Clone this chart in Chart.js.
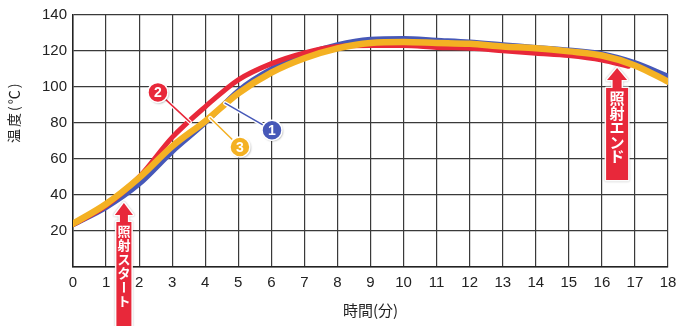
<!DOCTYPE html>
<html>
<head>
<meta charset="utf-8">
<script src="https://cdn.jsdelivr.net/npm/chart.js@4/dist/chart.umd.min.js"></script>
<style>
  html, body { margin: 0; padding: 0; background: #fff; }
  #wrap { width: 676px; height: 326px; position: relative; }
</style>
</head>
<body>
<div id="wrap"><canvas id="heatChart"></canvas></div>
<script>
// time axis (minutes)
var minutes = [0, 1, 2, 3, 4, 5, 6, 7, 8, 9, 10, 11, 12, 13, 14, 15, 16, 17, 18];
var minutesRed = [0, 1, 2, 3, 4, 5, 6, 7, 8, 9, 10, 11, 12, 13, 14, 15, 16, 16.8];

// temperatures (°C)
var temp1 = [23.5, 33, 46, 64, 80, 98, 110, 118, 123.5, 126.5, 127, 126, 125, 123.5, 122, 120.5, 118.5, 113.5, 106];   // ① blue
var temp2 = [23.5, 34, 50, 72, 89, 104, 113, 119, 122.5, 123, 123, 122, 121.5, 120.2, 118.8, 117.5, 115, 111.5];       // ② red
var temp3 = [24, 35, 49.5, 67, 81, 96.5, 108, 116, 121.5, 124.5, 125, 124.5, 124, 122.5, 121.5, 119.8, 117.5, 112, 103]; // ③ orange

var yLabels = [20, 40, 60, 80, 100, 120, 140];

var BLUE = '#4658b8', RED = '#e8283a', ORANGE = '#f4b123';

function pts(xs, ys) {
    return ys.map(function (v, i) { return {x: xs[i], y: v}; });
}

// callout markers ①②③ (anchor positions in data units)
var callouts = [
    {text: '2', color: RED,    circle: [2.57, 97],  tip: [3.54, 80.5]},
    {text: '1', color: BLUE,   circle: [6.02, 76],  tip: [4.6, 91]},
    {text: '3', color: ORANGE, circle: [5.05, 66.7], tip: [4.15, 82.8]}
];
// 照射 arrows
var arrows = [
    {text: '照射スタート', at: [1.54, 35.6], headW: 18, headH: 12, stemW: 8, stemH: 7, boxW: 15, boxH: 130, font: 13, step: 14},
    {text: '照射エンド',   at: [16.46, 110.6], headW: 20, headH: 12, stemW: 9, stemH: 8, boxW: 22, boxH: 92, font: 15, step: 14.5}
];

var decorations = {
    id: 'decorations',
    afterDatasetsDraw: function (chart) {
        var ctx = chart.ctx;
        var xs = chart.scales.x, ys = chart.scales.y;

        // callouts
        callouts.forEach(function (c) {
            var cx = xs.getPixelForValue(c.circle[0]), cy = ys.getPixelForValue(c.circle[1]);
            var tx = xs.getPixelForValue(c.tip[0]), ty = ys.getPixelForValue(c.tip[1]);
            ctx.save();
            ctx.lineCap = 'round';
            ctx.strokeStyle = '#fff';
            ctx.lineWidth = 4;
            ctx.beginPath(); ctx.moveTo(cx, cy); ctx.lineTo(tx, ty); ctx.stroke();
            ctx.strokeStyle = c.color;
            ctx.lineWidth = 1.5;
            ctx.beginPath(); ctx.moveTo(cx, cy); ctx.lineTo(tx, ty); ctx.stroke();
            ctx.beginPath(); ctx.arc(cx, cy, 10, 0, Math.PI * 2);
            ctx.fillStyle = c.color;
            ctx.shadowColor = 'rgba(0,0,0,0.35)';
            ctx.shadowBlur = 2;
            ctx.shadowOffsetX = 1; ctx.shadowOffsetY = 1;
            ctx.fill();
            ctx.shadowColor = 'transparent';
            ctx.strokeStyle = '#fff';
            ctx.lineWidth = 1.5;
            ctx.stroke();
            ctx.fillStyle = '#fff';
            ctx.font = 'bold 14px "Liberation Sans", Arial, sans-serif';
            ctx.textAlign = 'center';
            ctx.textBaseline = 'middle';
            ctx.fillText(c.text, cx, cy + 1);
            ctx.restore();
        });

        // arrows
        arrows.forEach(function (a) {
            var cx = xs.getPixelForValue(a.at[0]), top = ys.getPixelForValue(a.at[1]);
            var stemTop = top + a.headH, boxTop = stemTop + a.stemH;
            ctx.save();
            ctx.beginPath();
            ctx.moveTo(cx, top);
            ctx.lineTo(cx + a.headW / 2, stemTop);
            ctx.lineTo(cx + a.stemW / 2, stemTop);
            ctx.lineTo(cx + a.stemW / 2, boxTop);
            ctx.lineTo(cx + a.boxW / 2, boxTop);
            ctx.lineTo(cx + a.boxW / 2, boxTop + a.boxH);
            ctx.lineTo(cx - a.boxW / 2, boxTop + a.boxH);
            ctx.lineTo(cx - a.boxW / 2, boxTop);
            ctx.lineTo(cx - a.stemW / 2, boxTop);
            ctx.lineTo(cx - a.stemW / 2, stemTop);
            ctx.lineTo(cx - a.headW / 2, stemTop);
            ctx.closePath();
            ctx.lineJoin = 'round';
            ctx.strokeStyle = 'rgba(255,255,255,0.95)';
            ctx.lineWidth = 3;
            ctx.shadowColor = 'rgba(0,0,0,0.3)';
            ctx.shadowBlur = 2;
            ctx.stroke();
            ctx.shadowColor = 'transparent';
            ctx.fillStyle = RED;
            ctx.fill();

            ctx.fillStyle = '#fff';
            ctx.font = 'bold ' + a.font + 'px "Noto Sans CJK JP", sans-serif';
            ctx.textAlign = 'center';
            ctx.textBaseline = 'middle';
            var chars = Array.from(a.text);
            chars.forEach(function (ch, i) {
                var y = boxTop + a.font * 0.72 + i * a.step;
                if (ch === 'ー') {
                    ctx.save();
                    ctx.translate(cx, y);
                    ctx.rotate(Math.PI / 2);
                    ctx.fillText(ch, 0, 0);
                    ctx.restore();
                } else {
                    ctx.fillText(ch, cx, y);
                }
            });
            ctx.restore();
        });

        // y axis title
        ctx.save();
        ctx.translate(14, ys.getPixelForValue(86));
        ctx.rotate(-Math.PI / 2);
        ctx.fillStyle = '#222';
        ctx.font = '14px "Noto Sans CJK JP", sans-serif';
        ctx.letterSpacing = '2px';
        ctx.textAlign = 'center';
        ctx.textBaseline = 'middle';
        ctx.fillText('温度(℃)', 0, 0);
        ctx.restore();
    }
};

var heatChart = new Chart(document.getElementById('heatChart'), {
    type: 'line',
    data: {
        datasets: [
            {
                label: '3',
                data: pts(minutes, temp3),
                borderColor: ORANGE,
                borderWidth: 6.5,
                order: 1
            },
            {
                label: '2',
                data: pts(minutesRed, temp2),
                borderColor: RED,
                borderWidth: 5,
                order: 2
            },
            {
                label: '1',
                data: pts(minutes, temp1),
                borderColor: BLUE,
                borderWidth: 5,
                order: 3
            }
        ]
    },
    options: {
        animation: false,
        responsive: true,
        maintainAspectRatio: false,
        elements: {
            point: { radius: 0 },
            line: { cubicInterpolationMode: 'monotone', borderCapStyle: 'round', borderJoinStyle: 'round' }
        },
        layout: { padding: { top: 15, right: 8, left: 0, bottom: 0 } },
        plugins: {
            legend: { display: false },
            tooltip: { enabled: false }
        },
        scales: {
            x: {
                type: 'linear',
                min: 0,
                max: 18,
                afterFit: function (scale) {
                    scale.height = 59;
                    scale.paddingLeft = 0;
                    scale.paddingRight = 0;
                },
                ticks: {
                    stepSize: 1,
                    padding: 7,
                    color: '#222',
                    font: { family: '"Liberation Sans", Arial, sans-serif', size: 15 }
                },
                grid: { color: '#3a3a3a', lineWidth: 1.2, drawTicks: false },
                border: { color: '#222', width: 1.5 },
                title: {
                    display: true,
                    text: '時間(分)',
                    color: '#222',
                    padding: { top: 0, bottom: 7 },
                    font: { family: '"Noto Sans CJK JP", sans-serif', size: 15 }
                }
            },
            y: {
                min: 0,
                max: 140,
                afterFit: function (scale) { scale.width = 73; },
                ticks: {
                    stepSize: 10,
                    padding: 6,
                    color: '#222',
                    font: { family: '"Liberation Sans", Arial, sans-serif', size: 15 },
                    callback: function (v) { return yLabels.indexOf(v) >= 0 ? String(v) : ''; }
                },
                grid: { color: '#3a3a3a', lineWidth: 1.2, drawTicks: false },
                border: { color: '#222', width: 1.5 }
            }
        }
    },
    plugins: [decorations]
});
</script>
</body>
</html>
